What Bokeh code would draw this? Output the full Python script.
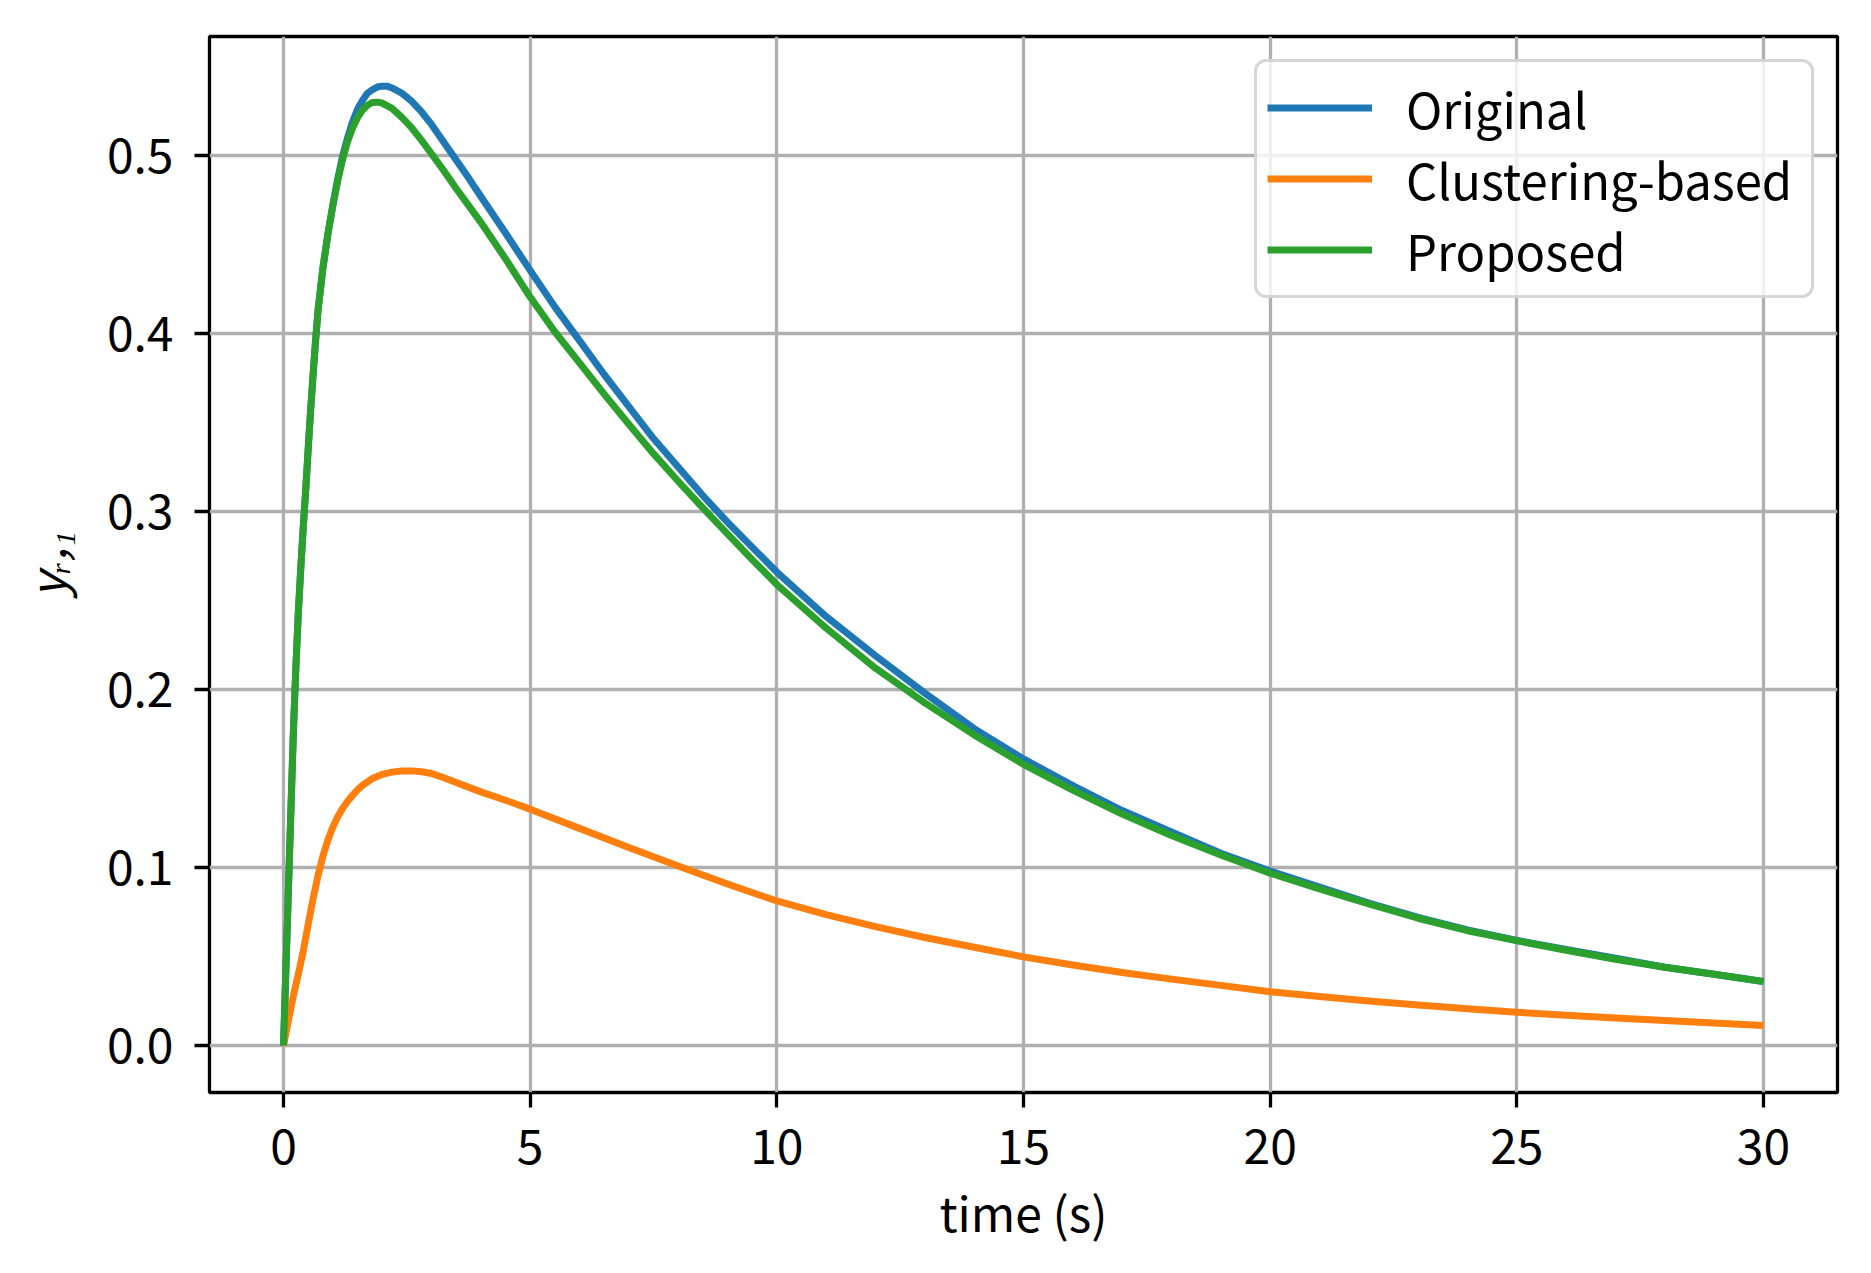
from bokeh.plotting import figure
from bokeh.models import Range1d, FixedTicker, Legend, LegendItem, CustomJSTickFormatter
from bokeh.embed import file_html
from bokeh.resources import INLINE

# ---- data ----
t_original = [0, 0.1, 0.2, 0.25, 0.3, 0.35, 0.4, 0.45, 0.5, 0.55, 0.6, 0.65, 0.7, 0.8, 0.9, 1.0,
              1.1, 1.2, 1.3, 1.4, 1.5, 1.6, 1.7, 1.8, 1.9, 2.0, 2.1, 2.2, 2.4, 2.6, 2.8, 3.0, 3.25,
              3.5, 3.75, 4.0, 4.5, 5.0, 5.5, 6.0, 6.5, 7.0, 7.5, 8.0, 8.5, 9.0, 9.5, 10, 11, 12,
              13, 14, 15, 16, 17, 18, 19, 20, 21, 22, 23, 24, 25, 26, 27, 28, 29, 30]
y_original = [0, 0.088, 0.176, 0.212, 0.243, 0.268, 0.291, 0.312, 0.335, 0.357, 0.377, 0.396,
              0.413, 0.437, 0.456, 0.472, 0.487, 0.5, 0.51, 0.519, 0.526, 0.531, 0.535, 0.537,
              0.5385, 0.539, 0.539, 0.538, 0.535, 0.5305, 0.5245, 0.5175, 0.5075, 0.4975, 0.4875,
              0.477, 0.4565, 0.4355, 0.415, 0.396, 0.377, 0.359, 0.341, 0.325, 0.309, 0.294, 0.280,
              0.266, 0.241, 0.219, 0.198, 0.178, 0.161, 0.146, 0.132, 0.120, 0.108, 0.098, 0.089,
              0.080, 0.072, 0.065, 0.059, 0.054, 0.049, 0.044, 0.040, 0.036]

t_clustering = [0, 0.1, 0.2, 0.3, 0.4, 0.5, 0.6, 0.7, 0.8, 0.9, 1.0, 1.1, 1.2, 1.3, 1.4, 1.5, 1.6,
                1.8, 2.0, 2.2, 2.4, 2.6, 2.8, 3.0, 3.25, 3.5, 4.0, 4.5, 5, 6, 7, 8, 9, 10, 11, 12,
                13, 14, 15, 16, 17, 18, 19, 20, 21, 22, 23, 24, 25, 26, 27, 28, 29, 30]
y_clustering = [0, 0.014, 0.028, 0.040, 0.053, 0.068, 0.0825, 0.0955, 0.1065, 0.1155, 0.1228,
                0.1285, 0.1333, 0.1372, 0.1406, 0.1436, 0.1461, 0.1500, 0.1523, 0.1536, 0.1542,
                0.1543, 0.1538, 0.1528, 0.1505, 0.1478, 0.1425, 0.1378, 0.1328, 0.1220, 0.1113,
                0.1008, 0.0907, 0.0812, 0.0735, 0.0668, 0.0607, 0.0552, 0.0498, 0.0452, 0.041,
                0.0373, 0.0338, 0.0302, 0.0275, 0.025, 0.0227, 0.0206, 0.0187, 0.017, 0.0155,
                0.014, 0.0126, 0.0112]

t_proposed = [0, 0.1, 0.2, 0.25, 0.3, 0.35, 0.4, 0.45, 0.5, 0.55, 0.6, 0.65, 0.7, 0.8, 0.9, 1.0,
              1.1, 1.2, 1.3, 1.4, 1.5, 1.6, 1.7, 1.8, 1.9, 2.0, 2.2, 2.4, 2.6, 2.8, 3.0, 3.25, 3.5,
              3.75, 4.0, 4.5, 5.0, 5.5, 6.0, 6.5, 7.0, 7.5, 8.0, 8.5, 9.0, 9.5, 10, 11, 12, 13, 14,
              15, 16, 17, 18, 19, 20, 21, 22, 23, 24, 25, 26, 27, 28, 29, 30]
y_proposed = [0, 0.088, 0.176, 0.212, 0.243, 0.268, 0.291, 0.312, 0.335, 0.357, 0.377, 0.396,
              0.413, 0.437, 0.456, 0.472, 0.486, 0.498, 0.508, 0.5155, 0.5213, 0.5255, 0.5283,
              0.5298, 0.530, 0.5295, 0.5265, 0.5215, 0.5155, 0.5085, 0.501, 0.4915, 0.4815,
              0.472, 0.4625, 0.442, 0.4205, 0.401, 0.3835, 0.366, 0.349, 0.3325, 0.317, 0.302,
              0.2875, 0.273, 0.259, 0.2345, 0.212, 0.1925, 0.1745, 0.158, 0.1435, 0.130, 0.118,
              0.107, 0.0968, 0.088, 0.0795, 0.0715, 0.0645, 0.0589, 0.0535, 0.0485, 0.044, 0.040,
              0.0359]

series_names = ["Original", "Clustering-based", "Proposed"]
x_ticks = [0, 5, 10, 15, 20, 25, 30]
y_ticks = [0.0, 0.1, 0.2, 0.3, 0.4, 0.5]

colors = ["#1f77b4", "#ff7f0e", "#2ca02c"]
FONT = "Noto Sans CJK JP"
FS = "48px"
LW = 7

p = figure(frame_width=1628, frame_height=1056,
           min_border_left=209, min_border_right=12, min_border_top=36, min_border_bottom=160,
           x_range=Range1d(-1.5, 31.5), y_range=Range1d(-0.0264, 0.5669),
           output_backend="svg", toolbar_location=None, background_fill_color="white",
           border_fill_color="white")

p.outline_line_color = "black"
p.outline_line_width = 3.3

r1 = p.line(t_original, y_original, color=colors[0], line_width=LW, line_join="round")
r2 = p.line(t_clustering, y_clustering, color=colors[1], line_width=LW, line_join="round")
r3 = p.line(t_proposed, y_proposed, color=colors[2], line_width=LW, line_join="round")

p.xaxis.ticker = FixedTicker(ticks=x_ticks)
p.yaxis.ticker = FixedTicker(ticks=y_ticks)
p.yaxis.formatter = CustomJSTickFormatter(code="return tick.toFixed(1);")
p.xaxis.formatter = CustomJSTickFormatter(code="return tick.toFixed(0);")

for ax in (p.xaxis, p.yaxis):
    ax.axis_line_color = None
    ax.major_tick_line_color = "black"
    ax.major_tick_line_width = 3.3
    ax.major_tick_out = 15
    ax.major_tick_in = 0
    ax.minor_tick_line_color = None
    ax.major_label_text_font = FONT
    ax.major_label_text_font_size = FS
    ax.major_label_text_color = "black"
    ax.axis_label_text_font = FONT
    ax.axis_label_text_font_size = FS
    ax.axis_label_text_color = "black"
    ax.axis_label_text_font_style = "normal"

p.xaxis.major_label_standoff = 21
p.yaxis.major_label_standoff = 21
p.xaxis.axis_label = "time (s)"
p.xaxis.axis_label_standoff = 9
p.yaxis.axis_label = "yᵣ,₁"
p.yaxis.axis_label_text_font_style = "italic"
p.yaxis.axis_label_standoff = 24

p.xgrid.grid_line_color = "#b0b0b0"
p.ygrid.grid_line_color = "#b0b0b0"
p.xgrid.grid_line_width = 3.3
p.ygrid.grid_line_width = 3.3

legend = Legend(items=[LegendItem(label=series_names[0], renderers=[r1]),
                       LegendItem(label=series_names[1], renderers=[r2]),
                       LegendItem(label=series_names[2], renderers=[r3])],
                location="top_right", margin=23, padding=10, spacing=0,
                glyph_width=105, glyph_height=55, label_height=55, label_width=395,
                label_standoff=34,
                label_text_font=FONT, label_text_font_size="49px", label_text_color="black",
                border_line_color="#cccccc", border_line_width=3.3, border_line_alpha=0.8,
                background_fill_color="white", background_fill_alpha=0.8,
                border_radius=12)
p.add_layout(legend)

open("out.html", "w").write(file_html(p, INLINE))
